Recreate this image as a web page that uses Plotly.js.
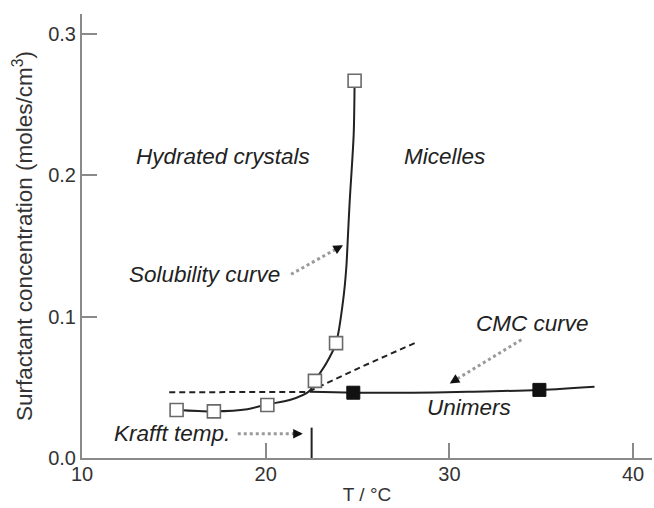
<!DOCTYPE html>
<html>
<head>
<meta charset="utf-8">
<script src="https://cdn.plot.ly/plotly-3.0.1.min.js"></script>
<style>html,body{margin:0;padding:0;background:#fff;}#chart{width:654px;height:508px;}</style>
</head>
<body>
<div id="chart"></div>
<script>
// Solubility curve (smooth line through open squares)
const solCurveT = [15.15, 17.18, 19.0, 20.09, 21.31, 22.4, 22.68, 23.3, 23.83, 24.21, 24.39, 24.48, 24.57, 24.79, 24.84];
const solCurveC = [0.034, 0.033, 0.0345, 0.038, 0.041, 0.0476, 0.0546, 0.067, 0.0813, 0.111, 0.135, 0.158, 0.181, 0.229, 0.267];
// Open squares (solubility data)
const solPointsT = [15.15, 17.18, 20.09, 22.68, 23.83, 24.84];
const solPointsC = [0.034, 0.033, 0.0375, 0.0546, 0.0813, 0.267];
// CMC curve
const cmcCurveT = [22.4, 24.77, 28.0, 31.0, 34.9, 37.9];
const cmcCurveC = [0.0468, 0.0462, 0.0462, 0.0468, 0.0482, 0.0505];
// Filled squares (CMC data)
const cmcPointsT = [24.77, 34.9];
const cmcPointsC = [0.0462, 0.0482];
// Dashed extrapolation line
const dashT = [14.75, 22.3, 25.3, 28.14];
const dashC = [0.0465, 0.0468, 0.065, 0.0815];
// Krafft temperature marker
const krafftT = [22.5, 22.5];
const krafftC = [0, 0.0215];

// Region labels
const labelText = ["Hydrated crystals", "Micelles", "Solubility curve", "CMC curve", "Unimers", "Krafft temp."];
const labelT = [17.66, 29.72, 16.68, 34.51, 31.05, 14.91];
const labelC = [0.2137, 0.2137, 0.1302, 0.0951, 0.0355, 0.0172];
// Pointer arrows (tail -> tip)
const arrowTailT = [21.38, 33.92, 18.48];
const arrowTailC = [0.130, 0.0837, 0.0172];
const arrowTipT = [24.21, 30.02, 22.02];
const arrowTipC = [0.1506, 0.0528, 0.0172];
const arrowHeadAx = [-9, 8.5, -10];
const arrowHeadAy = [5, -5.2, 0];

const xTicks = [10, 20, 30, 40];
const yTicks = [0.0, 0.1, 0.2, 0.3];

const FONT = "Liberation Sans, Arial, Helvetica, sans-serif";
const AXC = "#8a8a8a";

const traces = [
  {x: dashT, y: dashC, mode: "lines", line: {color: "#222", width: 2, dash: "6px,4px"}, hoverinfo: "skip"},
  {x: solCurveT, y: solCurveC, mode: "lines", line: {color: "#222", width: 2, shape: "spline", smoothing: 0.8}, hoverinfo: "skip"},
  {x: cmcCurveT, y: cmcCurveC, mode: "lines", line: {color: "#222", width: 2, shape: "spline"}, hoverinfo: "skip"},
  {x: krafftT, y: krafftC, mode: "lines", line: {color: "#222", width: 2}, hoverinfo: "skip"},
  {x: solPointsT, y: solPointsC, mode: "markers", marker: {symbol: "square", size: 13, color: "#fff", line: {color: "#6a6a6a", width: 1.6}}},
  {x: cmcPointsT, y: cmcPointsC, mode: "markers", marker: {symbol: "square", size: 13, color: "#111", line: {color: "#111", width: 1}}}
];

const annotations = [];
for (let i = 0; i < labelText.length; i++) {
  annotations.push({x: labelT[i], y: labelC[i], xref: "x", yref: "y", text: labelText[i], showarrow: false,
    font: {family: FONT, size: 22.5, color: "#222", style: "italic"}, xanchor: "center", yanchor: "middle"});
}
const shapes = [];
for (let i = 0; i < arrowTailT.length; i++) {
  shapes.push({type: "line", xref: "x", yref: "y", x0: arrowTailT[i], y0: arrowTailC[i], x1: arrowTipT[i], y1: arrowTipC[i],
    line: {color: "#9a9a9a", width: 3, dash: "dot"}});
  annotations.push({x: arrowTipT[i], y: arrowTipC[i], xref: "x", yref: "y", text: "", showarrow: true,
    ax: arrowHeadAx[i], ay: arrowHeadAy[i], arrowhead: 2, arrowsize: 1.2, arrowwidth: 1.6, arrowcolor: "#111"});
}

const layout = {
  width: 654, height: 508,
  margin: {l: 82, r: 2, t: 14, b: 50},
  paper_bgcolor: "#fff", plot_bgcolor: "#fff",
  showlegend: false,
  font: {family: FONT, color: "#333"},
  xaxis: {
    range: [10, 41.03], tickvals: xTicks, ticktext: xTicks.map(String),
    ticks: "inside", ticklen: 15, tickwidth: 2, tickcolor: AXC,
    showline: true, linecolor: AXC, linewidth: 2, showgrid: false, zeroline: false,
    tickfont: {family: FONT, size: 20, color: "#333"}, ticklabelstandoff: -3,
    title: {text: "T / °C", font: {family: FONT, size: 19, color: "#333"}, standoff: 4},
    automargin: false
  },
  yaxis: {
    range: [0, 0.3142], tickvals: yTicks, ticktext: yTicks.map(v => v.toFixed(1)),
    ticks: "inside", ticklen: 15, tickwidth: 2, tickcolor: AXC,
    showline: true, linecolor: AXC, linewidth: 2, showgrid: false, zeroline: false,
    tickfont: {family: FONT, size: 20, color: "#333"},
    title: {text: "Surfactant concentration (moles/cm<sup>3</sup>)", font: {family: FONT, size: 22.5, color: "#333"}, standoff: 9},
    automargin: false
  },
  annotations: annotations,
  shapes: shapes
};

Plotly.newPlot("chart", traces, layout, {displayModeBar: false, staticPlot: true});
</script>
</body>
</html>
